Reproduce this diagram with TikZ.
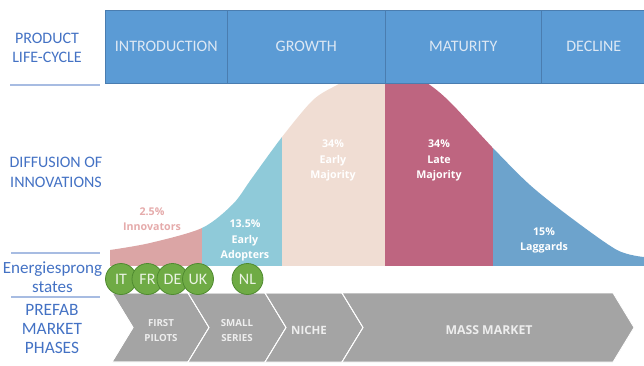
\documentclass[tikz,border=0pt]{standalone}
\usepackage{fontspec}
\setmainfont{Carlito}
\newfontfamily\curvefont{Open Sans}
\usetikzlibrary{positioning}
\definecolor{plcblue}{HTML}{5B9BD5}
\definecolor{plcline}{HTML}{4A7DB0}
\definecolor{plctext}{HTML}{DDE8F4}
\definecolor{labelblue}{HTML}{4472C4}
\definecolor{ruleblue}{HTML}{A7BCE2}
\definecolor{innovpink}{HTML}{DBA5A5}
\definecolor{innovtext}{HTML}{E5ABAB}
\definecolor{adoptblue}{HTML}{8FCAD9}
\definecolor{earlymaj}{HTML}{F0DDD3}
\definecolor{latemaj}{HTML}{BE6580}
\definecolor{laggblue}{HTML}{6DA3CC}
\definecolor{statgreen}{HTML}{6FAB45}
\definecolor{statedge}{HTML}{4F8A30}
\definecolor{statetext}{HTML}{EAF3E3}
\definecolor{phasegray}{HTML}{A4A4A4}
\definecolor{phasetext}{HTML}{EEEEEE}
\tikzset{
    plcbox/.style={draw=plcline,fill=plcblue,text=plctext,anchor=north west,
        minimum height=54.75pt,inner sep=0pt,font=\fontsize{12}{14}\selectfont},
    sidelabel/.style={text=labelblue,align=center,inner sep=0pt},
    siderule/.style={draw=ruleblue,line width=1.1pt},
    curvelabel/.style={text=white,align=center,inner sep=0pt,
        font=\curvefont\bfseries\fontsize{8}{11.4}\selectfont},
    country/.style={circle,draw=statedge,fill=statgreen,text=statetext,line width=0.6pt,
        minimum size=23.25pt,inner sep=0pt,font=\fontsize{12}{12}\selectfont},
    chevron/.style={fill=phasegray,draw=white,line width=0.6pt},
    phaselabel/.style={text=phasetext,align=center,inner sep=0pt,font=\curvefont\bfseries}
}

\begin{document}
\begin{tikzpicture}[x=0.75pt,y=-0.75pt]
    \clip (0,0) rectangle (644,365);

    \begin{scope}
        \clip (110,266) -- plot[smooth] coordinates {(110,250) (150,243) (202,228) (233,204)
            (252,178) (282,137) (313,100) (337,85) (360,74) (382,69) (405,73) (427,83)
            (450,102) (493,148) (530,185) (570,217) (617,250) (644,257)} -- (644,266) -- cycle;
        \fill[innovpink] (110,0) rectangle (202,266);
        \fill[adoptblue] (202,0) rectangle (282,266);
        \fill[earlymaj] (282,0) rectangle (385,266);
        \fill[latemaj] (385,0) rectangle (493,266);
        \fill[laggblue] (493,0) rectangle (644,266);
    \end{scope}

    \node[curvelabel,text=innovtext] (innov) at (152,219) {2.5\%\\Innovators};
    \node[curvelabel] (adopt) at (245,240.5) {13.5\%\\Early\\Adopters};
    \node[curvelabel] (earlymaj) at (333,160.5) {34\%\\Early\\Majority};
    \node[curvelabel] (latemaj) at (439,160.5) {34\%\\Late\\Majority};
    \node[curvelabel] (lagg) at (544,240.5) {15\%\\Laggards};

    \node[plcbox,minimum width=91.5pt] (intro) at (105,10) {INTRODUCTION};
    \node[plcbox,minimum width=118.5pt] (growth) at (227,10) {GROWTH};
    \node[plcbox,minimum width=117pt] (maturity) at (385,10) {MATURITY};
    \node[plcbox,minimum width=78.75pt] (decline) at (541,10) {DECLINE};

    \node[sidelabel,font=\fontsize{12}{14.25}\selectfont] (plc) at (47,47.5) {PRODUCT\\LIFE-CYCLE};
    \node[sidelabel,font=\fontsize{12}{15}\selectfont] (doi) at (56,172) {DIFFUSION OF\\INNOVATIONS};
    \node[sidelabel,font=\fontsize{12.8}{14.25}\selectfont] (states) at (52.5,277.5) {Energiesprong\\states};
    \node[sidelabel,font=\fontsize{13}{14.25}\selectfont] (prefab) at (52,329) {PREFAB\\MARKET\\PHASES};
    \draw[siderule] (10,85) -- (100,85);
    \draw[siderule] (11,253) -- (100,253);
    \draw[siderule] (11,297) -- (100,297);

    \fill[chevron] (112,293) -- (188,293) -- (209,327.5) -- (188,362) -- (112,362) -- (133,327.5) -- cycle;
    \fill[chevron] (188,293) -- (265,293) -- (286,327.5) -- (265,362) -- (188,362) -- (209,327.5) -- cycle;
    \fill[chevron] (265,293) -- (342,293) -- (363,327.5) -- (342,362) -- (265,362) -- (286,327.5) -- cycle;
    \fill[chevron] (342,293) -- (613,293) -- (634,327.5) -- (613,362) -- (342,362) -- (363,327.5) -- cycle;
    \draw[chevron,fill=none] (112,293) -- (188,293) -- (209,327.5) -- (188,362) -- (112,362) -- (133,327.5) -- cycle;
    \draw[chevron,fill=none] (188,293) -- (265,293) -- (286,327.5) -- (265,362);
    \draw[chevron,fill=none] (265,293) -- (342,293) -- (363,327.5) -- (342,362);

    \node[phaselabel,font=\curvefont\bfseries\fontsize{7.3}{11.25}\selectfont] (pilots) at (161,330.5) {FIRST\\PILOTS};
    \node[phaselabel,font=\curvefont\bfseries\fontsize{7.3}{11.25}\selectfont] (series) at (237,330.5) {SMALL\\SERIES};
    \node[phaselabel,font=\curvefont\bfseries\fontsize{8.6}{11}\selectfont] (niche) at (309,330.5) {NICHE};
    \node[phaselabel,font=\curvefont\bfseries\fontsize{9.2}{11}\selectfont] (mass) at (489,330.5) {MASS MARKET};

    \node[country] (it) at (121,279) {IT};
    \node[country] (fr) at (147.5,279) {FR};
    \node[country] (de) at (172.5,279) {DE};
    \node[country] (uk) at (198,279) {UK};
    \node[country] (nl) at (247.5,279) {NL};
\end{tikzpicture}
\end{document}
